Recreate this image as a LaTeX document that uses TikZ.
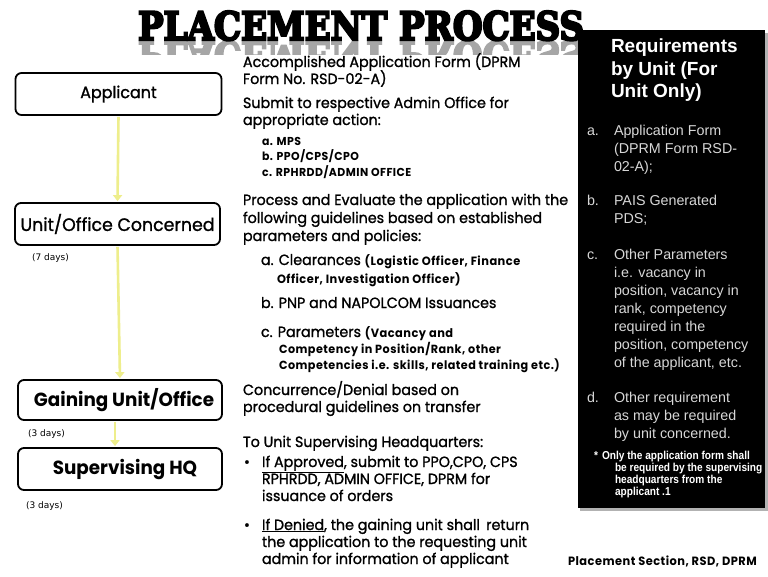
\documentclass[tikz,border=0pt]{standalone}
\usepackage{fontspec}
\usepackage{graphicx}
\usetikzlibrary{arrows.meta}
\setmainfont{Poppins}[FakeStretch=0.965,UprightFeatures={FakeBold=1.2}]
\newfontfamily\smallbold[FakeStretch=0.95,LetterSpace=4]{Poppins}
\newfontfamily\titlefont[BoldFeatures={FakeBold=6}]{DejaVu Serif}
\newfontfamily\arialf{Liberation Sans}
\newfontfamily\arialnarrow[FakeStretch=0.88]{Liberation Sans}
\newfontfamily\daysf{DejaVu Sans}
\definecolor{flowyellow}{RGB}{238,238,140}
\definecolor{reqgray}{RGB}{215,215,215}
\newcommand\tline[4]{\node[tl,anchor=base west] (#1) at (#2,#3) {#4};}
\newcommand\fs[2]{\fontsize{#1}{#2}\selectfont}
\newcommand\titletext{\resizebox{446pt}{29pt}{\titlefont\bfseries PLACEMENT PROCESS}}
\begin{document}
\begin{tikzpicture}[x=1pt,y=-1pt,
  tl/.style={inner sep=0pt,outer sep=0pt},
  box/.style={draw=black,line width=1.8pt,rounded corners=6pt,fill=white,
    minimum width=206pt,minimum height=42pt,inner sep=0pt},
  flow/.style={draw=flowyellow,line width=2.6pt,
    -{Triangle[width=9pt,length=6pt,fill=flowyellow]},shorten >=1pt,shorten <=1pt},
  main/.style={tl,font=\fs{14.8}{17}},
  sb/.style={tl,font=\smallbold\bfseries\fs{11.5}{13}},
  req/.style={tl,font=\arialf\fs{14.3}{18},text=reqgray},
  fn/.style={tl,font=\arialnarrow\bfseries\fs{11.5}{12},text=white},
]
\useasboundingbox (0,0) rectangle (768,576);
\fill[white] (0,0) rectangle (768,576);

% ---- title with reflection
\begin{scope}
\clip (120,40) rectangle (600,54);
\node[tl,anchor=base west,text=black!35] (titlerefl) at (138,41.5)
  {\scalebox{1}[-1]{\titletext}};
\end{scope}
\node[tl,anchor=base west] (title) at (138,40) {\titletext};

% ---- requirements panel
\fill[black!30] (580,33) rectangle (768,511);
\node[fill=black,inner sep=0pt,minimum width=187pt,minimum height=478pt,anchor=north west] (reqbox) at (578,30) {};
\tline{rt1}{611}{52}{\arialf\bfseries\fs{19}{22}\color{white}Requirements}
\tline{rt2}{611}{75}{\arialf\bfseries\fs{19}{22}\color{white}by Unit (For}
\tline{rt3}{611}{97}{\arialf\bfseries\fs{19}{22}\color{white}Unit Only)}
\node[req,anchor=base west] (ra) at (587,135) {a.};
\node[req,anchor=base west] (ra1) at (614,135) {Application Form};
\node[req,anchor=base west] (ra2) at (614,153) {(DPRM Form RSD-};
\node[req,anchor=base west] (ra3) at (614,171) {02-A);};
\node[req,anchor=base west] (rb) at (587,205) {b.};
\node[req,anchor=base west] (rb1) at (614,205) {PAIS Generated};
\node[req,anchor=base west] (rb2) at (614,223) {PDS;};
\node[req,anchor=base west] (rc) at (587,259) {c.};
\node[req,anchor=base west] (rc1) at (614,259) {Other Parameters};
\node[req,anchor=base west] (rc2) at (614,277) {i.e. vacancy in};
\node[req,anchor=base west] (rc3) at (614,295) {position, vacancy in};
\node[req,anchor=base west] (rc4) at (614,313) {rank, competency};
\node[req,anchor=base west] (rc5) at (614,331) {required in the};
\node[req,anchor=base west] (rc6) at (614,349) {position, competency};
\node[req,anchor=base west] (rc7) at (614,367) {of the applicant, etc.};
\node[req,anchor=base west] (rd) at (587,402) {d.};
\node[req,anchor=base west] (rd1) at (614,402) {Other requirement};
\node[req,anchor=base west] (rd2) at (614,420) {as may be required};
\node[req,anchor=base west] (rd3) at (614,438) {by unit concerned.};
\node[fn,anchor=base west] (rf0) at (594,459) {*};
\node[fn,anchor=base west] (rf1) at (602,459) {Only the application form shall};
\node[fn,anchor=base west] (rf2) at (615,471) {be required by the supervising};
\node[fn,anchor=base west] (rf3) at (615,483) {headquarters from the};
\node[fn,anchor=base west] (rf4) at (615,495) {applicant .1};

% ---- flow boxes
\node[box] (app) at (118.5,94) {\fs{16.5}{18}Applicant};
\node[box,minimum width=205pt] (unit) at (117.5,224) {\fs{18}{20}Unit/Office Concerned};
\node[box,minimum width=204pt,minimum height=40pt] (gain) at (120,400) {\hspace*{8pt}\fs{19}{21}\bfseries Gaining Unit/Office};
\node[box,minimum width=204pt] (sup) at (120,469) {\hspace*{10pt}\fs{19}{21}\bfseries Supervising HQ};

\draw[flow] (app.south) -- (unit.north);
\draw[flow] (unit.south) -- (gain.north);
\draw[flow] ([xshift=-5pt]gain.south) -- ([xshift=-5pt]sup.north);

\tline{d1}{32}{260}{\daysf\fs{9}{10}(7 days)}
\tline{d2}{28}{436}{\daysf\fs{9}{10}(3 days)}
\tline{d3}{26}{508}{\daysf\fs{9}{10}(3 days)}

% ---- left descriptive text
\node[main,anchor=base west] (p1a) at (243,67) {Accomplished Application Form (DPRM};
\node[main,anchor=base west] (p1b) at (243,84) {Form No. RSD-02-A)};
\node[main,anchor=base west] (p2a) at (243,108) {Submit to respective Admin Office for};
\node[main,anchor=base west] (p2b) at (243,125) {appropriate action:};
\node[sb,anchor=base west] (s1) at (262,145) {a. MPS};
\node[sb,anchor=base west] (s2) at (262,160) {b. PPO/CPS/CPO};
\node[sb,anchor=base west] (s3) at (262,176) {c. RPHRDD/ADMIN OFFICE};
\node[main,anchor=base west] (p3a) at (243,205) {Process and Evaluate the application with the};
\node[main,anchor=base west] (p3b) at (243,223) {following guidelines based on established};
\node[main,anchor=base west] (p3c) at (243,241) {parameters and policies:};
\node[main,anchor=base west] (qa1) at (261,265) {a. Clearances {\smallbold\bfseries\fs{12}{13}(Logistic Officer, Finance}};
\node[sb,anchor=base west,font=\smallbold\bfseries\fs{12}{13}] (qa2) at (277,283) {Officer, Investigation Officer)};
\node[main,anchor=base west] (qb) at (261,308) {b. PNP and NAPOLCOM Issuances};
\node[main,anchor=base west] (qc1) at (261,337) {c. Parameters {\smallbold\bfseries\fs{12}{13}(Vacancy and}};
\node[sb,anchor=base west,font=\smallbold\bfseries\fs{11.8}{13}] (qc2) at (279,353) {Competency in Position/Rank, other};
\node[sb,anchor=base west,font=\smallbold\bfseries\fs{11.8}{13}] (qc3) at (279,369) {Competencies i.e. skills, related training etc.)};
\node[main,anchor=base west] (p4a) at (243,395) {Concurrence/Denial based on};
\node[main,anchor=base west] (p4b) at (243,412) {procedural guidelines on transfer};
\node[main,anchor=base west] (p5) at (243,447) {To Unit Supervising Headquarters:};
\node[main,anchor=base west] (bu1) at (244,467) {\textbullet};
\node[main,anchor=base west] (u1a) at (262,467) {\underline{If Approved}, submit to PPO,CPO, CPS};
\node[main,anchor=base west] (u1b) at (262,484) {RPHRDD, ADMIN OFFICE, DPRM for};
\node[main,anchor=base west] (u1c) at (262,501) {issuance of orders};
\node[main,anchor=base west] (bu2) at (244,530) {\textbullet};
\node[main,anchor=base west] (u2a) at (262,530) {\underline{If Denied}, the gaining unit shall\, return};
\node[main,anchor=base west] (u2b) at (262,547) {the application to the requesting unit};
\node[main,anchor=base west] (u2c) at (262,564) {admin for information of applicant};

\node[sb,anchor=base west,font=\smallbold\bfseries\fs{12}{13}] (foot) at (568,565) {Placement Section, RSD, DPRM};
\end{tikzpicture}
\end{document}
